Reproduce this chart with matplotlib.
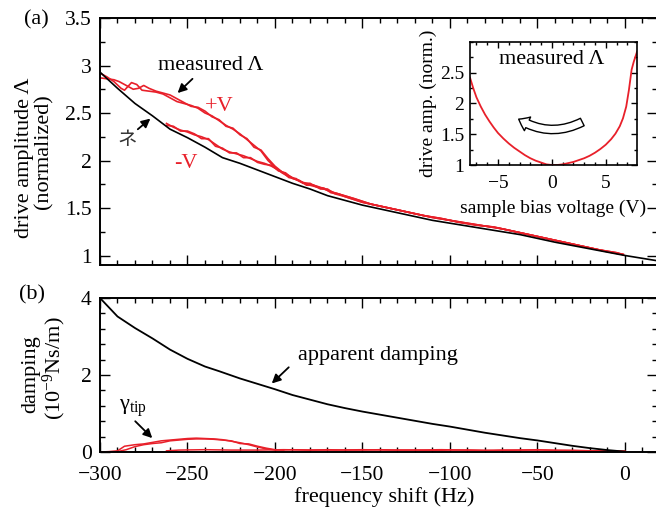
import numpy as np
from matplotlib import pyplot as plt
from matplotlib.ticker import MultipleLocator
from matplotlib.patches import FancyArrowPatch

plt.rcParams['font.family'] = ['Liberation Serif', 'DejaVu Serif']
plt.rcParams['mathtext.fontset'] = 'custom'
plt.rcParams['mathtext.rm'] = 'Liberation Serif'
plt.rcParams['mathtext.it'] = 'Liberation Serif:italic'

RED = '#e8202a'

# ---- panel (a): drive amplitude vs frequency shift ----
f_model = [-300, -290, -280, -270, -260, -250, -240, -230, -220, -210, -200, -190, -180,
           -170, -160, -150, -140, -130, -120, -110, -100, -90, -80, -70, -60, -50,
           -40, -30, -20, -10, 0, 10, 20]
amp_model = [2.93, 2.76, 2.60, 2.47, 2.33, 2.24, 2.14, 2.03, 1.97, 1.90, 1.83, 1.76, 1.70,
             1.63, 1.58, 1.53, 1.49, 1.45, 1.41, 1.37, 1.34, 1.31, 1.28, 1.25, 1.22, 1.18,
             1.14, 1.105, 1.07, 1.035, 1.00, 0.97, 0.94]

f_plus_a = [-300, -296, -292, -288, -286, -282, -279, -276, -272, -268, -264, -260, -256,
            -252, -248, -244, -240, -236, -232, -228, -224, -220, -216, -212, -208, -204,
            -200, -196, -192, -188, -184, -180, -176, -172, -168, -164]
amp_plus_a = [2.92, 2.88, 2.83, 2.76, 2.74, 2.82, 2.80, 2.74, 2.73, 2.72, 2.70, 2.66, 2.62,
              2.60, 2.58, 2.55, 2.50, 2.47, 2.42, 2.37, 2.33, 2.28, 2.22, 2.16, 2.10, 2.00,
              1.93, 1.87, 1.83, 1.80, 1.77, 1.75, 1.73, 1.70, 1.67, 1.65]
f_plus_b = [-300, -296, -292, -289, -285, -281, -278, -275, -272, -268, -264, -260, -256,
            -252, -248, -244, -240, -236, -232, -228, -224, -220, -216, -212, -208, -204,
            -200, -196, -192, -188, -184, -180, -176, -172, -168, -164]
amp_plus_b = [2.87, 2.86, 2.85, 2.83, 2.79, 2.75, 2.76, 2.79, 2.76, 2.73, 2.71, 2.69, 2.65,
              2.61, 2.57, 2.56, 2.52, 2.46, 2.43, 2.36, 2.34, 2.27, 2.23, 2.14, 2.11, 2.02,
              1.94, 1.88, 1.82, 1.81, 1.76, 1.76, 1.72, 1.71, 1.66, 1.65]

f_minus_a = [-262, -258, -254, -250, -246, -242, -238, -234, -230, -226, -222, -218, -214,
             -210, -206, -202, -198, -194, -190, -186, -182, -178, -174, -170, -166]
amp_minus_a = [2.39, 2.35, 2.32, 2.30, 2.27, 2.25, 2.22, 2.17, 2.12, 2.09, 2.07, 2.05, 2.02,
               1.99, 1.97, 1.94, 1.90, 1.86, 1.82, 1.78, 1.75, 1.73, 1.71, 1.69, 1.66]
f_minus_b = [-262, -258, -254, -250, -246, -242, -238, -234, -230, -226, -222, -218, -214,
             -210, -206, -202, -198, -194, -190, -186, -182, -178, -174, -170, -166]
amp_minus_b = [2.37, 2.36, 2.31, 2.31, 2.28, 2.23, 2.23, 2.15, 2.13, 2.08, 2.08, 2.03, 2.03,
               1.98, 1.96, 1.95, 1.89, 1.87, 1.81, 1.79, 1.74, 1.74, 1.70, 1.70, 1.65]

f_tail_a = [-160, -150, -140, -130, -120, -110, -100, -90, -80, -70, -60, -50, -40, -30,
            -20, -10, -1]
amp_tail_a = [1.62, 1.56, 1.52, 1.48, 1.44, 1.40, 1.37, 1.34, 1.31, 1.28, 1.24, 1.20,
              1.16, 1.12, 1.08, 1.04, 1.01]
f_tail_b = [-155, -145, -135, -125, -115, -105, -95, -85, -75, -65, -55, -45, -35, -25,
            -15, -5, -1]
amp_tail_b = [1.60, 1.54, 1.50, 1.46, 1.42, 1.39, 1.35, 1.32, 1.30, 1.26, 1.22, 1.18,
              1.14, 1.10, 1.06, 1.03, 1.01]

# ---- inset: drive amplitude vs bias voltage ----
v_bias = [-7.6, -7.3, -7.0, -6.6, -6.2, -5.8, -5.4, -5.0, -4.5, -4.0, -3.5, -3.0, -2.5,
          -2.0, -1.5, -1.0, -0.5, 0.0, 0.5, 1.0, 1.5, 2.0, 2.5, 3.0, 3.5, 4.0, 4.5, 5.0,
          5.5, 5.9, 6.3, 6.6, 6.9, 7.15, 7.4, 7.6, 7.9]
amp_bias = [2.42, 2.25, 2.10, 1.95, 1.82, 1.71, 1.61, 1.52, 1.43, 1.35, 1.28, 1.22, 1.16,
            1.11, 1.07, 1.04, 1.01, 1.00, 1.00, 1.01, 1.03, 1.05, 1.08, 1.11, 1.15, 1.20,
            1.26, 1.33, 1.42, 1.51, 1.63, 1.76, 1.95, 2.22, 2.55, 2.68, 2.84]

# ---- panel (b): damping ----
f_damp = [-300, -290, -280, -270, -260, -250, -240, -232, -220, -210, -200, -190, -180,
          -170, -160, -150, -140, -130, -120, -110, -100, -90, -80, -70, -60, -50, -40,
          -30, -20, -10, 0]
damp_apparent = [4.0, 3.52, 3.22, 2.95, 2.66, 2.42, 2.22, 2.10, 1.91, 1.77, 1.63, 1.48, 1.36,
                 1.24, 1.14, 1.05, 0.97, 0.89, 0.81, 0.73, 0.66, 0.58, 0.50, 0.43, 0.36,
                 0.30, 0.23, 0.16, 0.10, 0.05, 0.01]

f_tip_a = [-300, -295, -290, -286, -280, -275, -270, -265, -260, -255, -250, -245, -240,
           -235, -230, -225, -220, -215, -210, -205, -200, -190, -180, -170, -160, -150,
           -140, -130, -120, -110, -100, -90, -80, -70, -60, -50, -40, -30, -20, -10, 0]
gamma_tip_a = [0.0, 0.01, 0.03, 0.15, 0.19, 0.21, 0.25, 0.29, 0.31, 0.33, 0.35, 0.36, 0.35,
               0.34, 0.32, 0.28, 0.24, 0.19, 0.13, 0.08, 0.05, 0.06, 0.05, 0.06, 0.05, 0.05,
               0.06, 0.05, 0.05, 0.04, 0.05, 0.05, 0.04, 0.05, 0.05, 0.06, 0.04, 0.04, 0.03,
               0.03, 0.02]
f_tip_b = [-300, -290, -285, -280, -275, -270, -265, -260, -255, -250, -245, -240, -235,
           -230, -225, -220, -215, -210, -205, -200, -195]
gamma_tip_b = [0.0, 0.01, 0.06, 0.14, 0.19, 0.22, 0.24, 0.29, 0.31, 0.33, 0.34, 0.34, 0.33,
               0.31, 0.29, 0.22, 0.21, 0.15, 0.10, 0.06, 0.05]
f_tip_c = [-262, -255, -240, -225, -210, -195, -180, -165, -150, -135, -120, -105, -90,
           -75, -60, -45, -30, -15, 0]
gamma_tip_c = [0.03, 0.05, 0.06, 0.05, 0.05, 0.06, 0.05, 0.05, 0.06, 0.05, 0.05, 0.06,
               0.05, 0.04, 0.05, 0.05, 0.04, 0.03, 0.02]


def style_axes(ax, lw=1.4, major=7, minor=3.5, size=15.5, xpad=10, ypad=6):
    for s in ax.spines.values():
        s.set_linewidth(lw)
    ax.tick_params(which='both', direction='in', top=True, right=True, width=1.0,
                   labelsize=size)
    ax.tick_params(which='major', length=major)
    ax.tick_params(which='minor', length=minor)
    ax.tick_params(axis='x', which='major', pad=xpad)
    ax.tick_params(axis='y', which='major', pad=ypad)


fig = plt.figure(figsize=(6.56, 5.11), dpi=100)
W, H = 656.0, 511.0
xl, xr = -300, 18.5
pxw = (xr - xl) * 1.75

ax_a = fig.add_axes([100 / W, 1 - 265 / H, pxw / W, 247 / H])
ax_b = fig.add_axes([100 / W, 1 - 452 / H, pxw / W, 154 / H])

# panel a
ax_a.plot(f_model, amp_model, color='black', lw=1.2, zorder=3)
ax_a.plot(f_plus_a + f_tail_a, amp_plus_a + amp_tail_a, color=RED, lw=1.2)
ax_a.plot(f_plus_b + f_tail_b, amp_plus_b + amp_tail_b, color=RED, lw=1.2)
ax_a.plot(f_minus_a + f_tail_b, amp_minus_a + amp_tail_b, color=RED, lw=1.2)
ax_a.plot(f_minus_b + f_tail_a, amp_minus_b + amp_tail_a, color=RED, lw=1.2)
ax_a.set_xlim(xl, xr)
ax_a.set_ylim(0.9, 3.5)
ax_a.set_yticks([1, 1.5, 2, 2.5, 3, 3.5])
ax_a.set_yticklabels(['1', '1.5', '2', '2.5', '3', '3.5'])
ax_a.yaxis.set_minor_locator(MultipleLocator(0.25))
ax_a.xaxis.set_major_locator(MultipleLocator(50))
ax_a.xaxis.set_minor_locator(MultipleLocator(10))
ax_a.set_xticklabels([])
style_axes(ax_a)

arr = dict(arrowstyle='-|>', color='black', lw=1.3, mutation_scale=13)
ax_a.text(-236.6, 3.0, 'measured Λ', fontsize=16, ha='center', va='center')
ax_a.annotate('', xy=(-256.8, 2.69), xytext=(-246, 2.88), arrowprops=arr)
ax_a.text(-232, 2.57, '+V', color=RED, fontsize=16, ha='center', va='center')
ax_a.text(-251, 1.97, '-V', color=RED, fontsize=16, ha='center', va='center')
ax_a.annotate('', xy=(-270, 2.46), xytext=(-279.6, 2.31), arrowprops=arr)
ax_a.text(-284.6, 2.22, 'ネ', fontsize=14, ha='center', va='center', color='#333333',
          family=['Noto Sans CJK JP', 'DejaVu Sans'])

# inset
ax_i = fig.add_axes([470 / W, 1 - 165 / H, 167 / W, 123 / H])
ax_i.plot(v_bias, amp_bias, color=RED, lw=1.3)
ax_i.set_xlim(-7.6, 7.9)
ax_i.set_ylim(1, 3)
ax_i.set_xticks([-5, 0, 5])
ax_i.set_yticks([1, 1.5, 2, 2.5])
ax_i.set_yticklabels(['1', '1.5', '2', '2.5'])
ax_i.xaxis.set_minor_locator(MultipleLocator(1))
ax_i.yaxis.set_minor_locator(MultipleLocator(0.25))
style_axes(ax_i, lw=1.2, major=4, minor=2, size=14, xpad=7, ypad=4)
ax_i.set_xlabel('sample bias voltage (V)', fontsize=14, labelpad=6)
ax_i.set_ylabel('drive amp. (norm.)', fontsize=14, labelpad=2)
ax_i.text(0, 2.71, 'measured Λ', fontsize=16, ha='center', va='center')
band = FancyArrowPatch((3.05, 1.72), (-3.3, 1.77), connectionstyle='arc3,rad=-0.3',
                       arrowstyle='simple,head_length=0.6,head_width=0.9,tail_width=0.5',
                       mutation_scale=12, facecolor='white', edgecolor='black', lw=1.0)
ax_i.add_patch(band)

# panel b
ax_b.plot(f_damp, damp_apparent, color='black', lw=1.3, zorder=3)
ax_b.plot(f_tip_a, gamma_tip_a, color=RED, lw=1.1)
ax_b.plot(f_tip_b, gamma_tip_b, color=RED, lw=1.1)
ax_b.plot(f_tip_c, gamma_tip_c, color=RED, lw=1.1)
ax_b.set_xlim(xl, xr)
ax_b.set_ylim(0, 4)
ax_b.set_yticks([0, 2, 4])
ax_b.yaxis.set_minor_locator(MultipleLocator(0.4))
ax_b.xaxis.set_major_locator(MultipleLocator(50))
ax_b.xaxis.set_minor_locator(MultipleLocator(10))
style_axes(ax_b)
ax_b.text(-187, 2.5, 'apparent damping', fontsize=16, ha='left', va='center')
ax_b.annotate('', xy=(-203, 1.73), xytext=(-191, 2.25), arrowprops=arr)
ax_b.text(-281, 1.14, 'γ$_{\\mathrm{tip}}$', fontsize=16, ha='center', va='center')
ax_b.annotate('', xy=(-269, 0.31), xytext=(-281, 0.85), arrowprops=arr)

# axis labels placed in figure pixels
def ftext(x, y, s, **kw):
    fig.text(x / W, 1 - y / H, s, ha='center', va='center', fontsize=16, **kw)

ftext(25, 158, 'drive amplitude Λ', rotation=90)
ftext(44, 152, '(normalized)', rotation=90)
ftext(31, 374, 'damping', rotation=90)
ftext(54, 368, '(10$^{-9}$Ns/m)', rotation=90)
ftext(384, 497, 'frequency shift (Hz)')
ftext(36, 20, '(a)')
ftext(32, 295, '(b)')

fig.savefig('out.png', dpi=100)
